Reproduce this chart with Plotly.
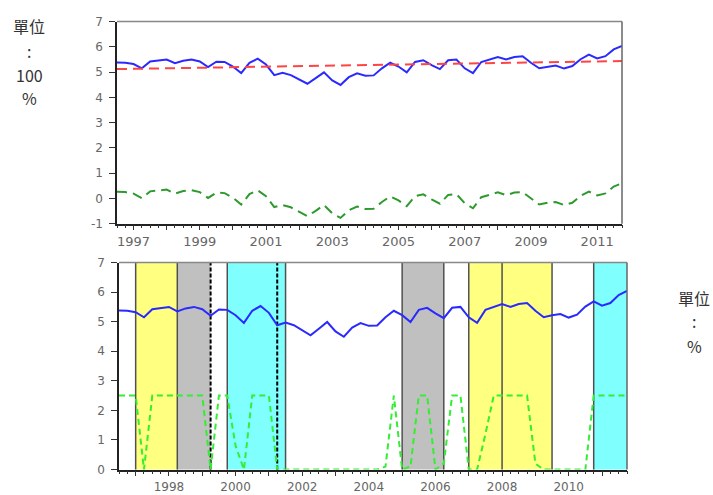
import plotly.graph_objects as go

# ---------------- data ----------------
start_year, start_q = 1996, 3
n_obs = 62
quarters = []
y, q = start_year, start_q
for _ in range(n_obs):
    quarters.append(f"{y}Q{q}")
    q += 1
    if q > 4:
        q = 1
        y += 1
x_num = [int(s[:4]) + (int(s[-1]) - 1) / 4 for s in quarters]

actual = [5.38, 5.37, 5.32, 5.15, 5.42, 5.47, 5.50, 5.35, 5.45, 5.50,
          5.42, 5.20, 5.41, 5.40, 5.22, 4.96, 5.37, 5.53, 5.30, 4.88,
          4.97, 4.88, 4.70, 4.54, 4.76, 4.99, 4.67, 4.49, 4.80, 4.95,
          4.86, 4.87, 5.15, 5.37, 5.22, 4.99, 5.40, 5.47, 5.28, 5.12,
          5.47, 5.50, 5.15, 4.96, 5.40, 5.50, 5.60, 5.50, 5.60, 5.63,
          5.37, 5.15, 5.22, 5.26, 5.14, 5.24, 5.51, 5.69, 5.54, 5.63,
          5.90, 6.04]

trend_x = ["1996Q3", "2011Q4"]
trend_y = [5.12, 5.44]

cycle = [0.26, 0.25, 0.19, 0.01, 0.28, 0.32, 0.35, 0.19, 0.29, 0.33,
         0.25, 0.02, 0.23, 0.21, 0.03, -0.24, 0.17, 0.32, 0.09, -0.34,
         -0.26, -0.35, -0.54, -0.70, -0.49, -0.26, -0.59, -0.77, -0.47, -0.32,
         -0.42, -0.41, -0.14, 0.08, -0.08, -0.31, 0.09, 0.16, -0.04, -0.21,
         0.14, 0.17, -0.19, -0.39, 0.05, 0.14, 0.24, 0.13, 0.23, 0.25,
         -0.01, -0.24, -0.17, -0.14, -0.26, -0.17, 0.10, 0.27, 0.12, 0.20,
         0.47, 0.60]

regime = [2.5, 2.5, 2.5, 0.0, 2.5, 2.5, 2.5, 2.5, 2.5, 2.5,
          2.5, 0.0, 2.5, 2.5, 0.8, 0.0, 2.5, 2.5, 2.5, 0.0,
          0.0, 0.0, 0.0, 0.0, 0.0, 0.0, 0.0, 0.0, 0.0, 0.0,
          0.0, 0.0, 0.1, 2.5, 0.0, 0.1, 2.5, 2.5, 0.0, 0.2,
          2.5, 2.5, 0.0, 0.0, 1.2, 2.5, 2.5, 2.5, 2.5, 2.5,
          0.2, 0.0, 0.0, 0.0, 0.0, 0.0, 0.0, 2.5, 2.5, 2.5,
          2.5, 2.5]

band_start = ["1997Q1", "1998Q2", "1999Q4", "2005Q1", "2007Q1", "2008Q1", "2010Q4"]
band_end = ["1998Q2", "1999Q2", "2001Q3", "2006Q2", "2008Q1", "2009Q3", "2011Q4"]
band_kind = ["yellow", "gray", "cyan", "gray", "yellow", "yellow", "cyan"]
solid_lines = ["1997Q1", "1998Q2", "1999Q4", "2001Q3", "2005Q1", "2006Q2",
               "2007Q1", "2008Q1", "2009Q3", "2010Q4"]
dashed_lines = ["1999Q2", "2001Q2"]

top_years = [1997, 1999, 2001, 2003, 2005, 2007, 2009, 2011]
bottom_years = [1998, 2000, 2002, 2004, 2006, 2008, 2010]
top_yticks = [-1, 0, 1, 2, 3, 4, 5, 6, 7]
bottom_yticks = [0, 1, 2, 3, 4, 5, 6, 7]

# ---------------- helpers ----------------
def qnum(s):
    return int(s[:4]) + (int(s[-1]) - 1) / 4

kind_color = {"yellow": "#ffff80", "gray": "#c0c0c0", "cyan": "#80ffff"}

W, H = 713, 495
def dom_x(a, b):
    return [a / W, b / W]
def dom_y(top, bottom):
    return [1 - bottom / H, 1 - top / H]

x_lo, x_hi = qnum("1996Q3"), qnum("2011Q4")

fig = go.Figure()
# top panel
fig.add_trace(go.Scatter(x=x_num, y=actual, mode="lines",
                         line=dict(color="#2a2aff", width=2), xaxis="x", yaxis="y"))
fig.add_trace(go.Scatter(x=[qnum(s) for s in trend_x], y=trend_y, mode="lines",
                         line=dict(color="#ff4444", width=2, dash="10px,6px"),
                         xaxis="x", yaxis="y"))
fig.add_trace(go.Scatter(x=x_num, y=cycle, mode="lines",
                         line=dict(color="#2e9a2e", width=2, dash="10px,6px"),
                         xaxis="x", yaxis="y"))
# bottom panel
fig.add_trace(go.Scatter(x=x_num, y=actual, mode="lines",
                         line=dict(color="#2a2aff", width=2), xaxis="x2", yaxis="y2"))
fig.add_trace(go.Scatter(x=x_num, y=regime, mode="lines",
                         line=dict(color="#33ee33", width=2, dash="6px,4px"),
                         xaxis="x2", yaxis="y2"))

shapes = []
for s, e, k in zip(band_start, band_end, band_kind):
    shapes.append(dict(type="rect", xref="x2", yref="y2 domain",
                       x0=qnum(s), x1=qnum(e), y0=0, y1=1,
                       fillcolor=kind_color[k], line=dict(width=0), layer="below"))
for s in solid_lines:
    shapes.append(dict(type="line", xref="x2", yref="y2 domain",
                       x0=qnum(s), x1=qnum(s), y0=0, y1=1,
                       line=dict(color="#505050", width=1.5), layer="below"))
for s in dashed_lines:
    shapes.append(dict(type="line", xref="x2", yref="y2 domain",
                       x0=qnum(s), x1=qnum(s), y0=0, y1=1,
                       line=dict(color="#000000", width=2, dash="4px,2px"), layer="below"))
# gray top/right borders
for xr, yr in (("x domain", "y domain"), ("x2 domain", "y2 domain")):
    shapes.append(dict(type="line", xref=xr, yref=yr, x0=0, x1=1, y0=1, y1=1,
                       line=dict(color="#888888", width=1.5)))
    shapes.append(dict(type="line", xref=xr, yref=yr, x0=1, x1=1, y0=0, y1=1,
                       line=dict(color="#666666", width=1.5)))

label_color = "#666666"

def xaxis_cfg(domain, anchor, years, fsize):
    all_years = list(range(1997, 2012))
    return dict(domain=domain, anchor=anchor, range=[x_lo, x_hi],
                tickvals=all_years,
                ticktext=[str(v) if v in years else "" for v in all_years],
                ticks="outside", ticklen=5, tickcolor="#333333",
                minor=dict(dtick=0.25, tick0=1997, ticks="outside", ticklen=3,
                           tickcolor="#333333", showgrid=False),
                showline=True, linecolor="#222222", linewidth=1.5,
                showgrid=False, zeroline=False,
                tickfont=dict(family="DejaVu Sans", size=fsize, color=label_color))

def yaxis_cfg(domain, anchor, rng, vals):
    return dict(domain=domain, anchor=anchor, range=rng, tickvals=vals,
                ticktext=[str(v) for v in vals],
                ticks="outside", ticklen=6, tickcolor="#333333",
                showline=True, linecolor="#222222", linewidth=1.5,
                showgrid=False, zeroline=False,
                tickfont=dict(family="DejaVu Sans", size=12, color=label_color),
                ticklabelstandoff=4)

annotations = []
ann_font = dict(family="Noto Sans CJK TC", size=16, color="#333333")
for txt, yy in (("單位", 20), (":", 45), ("100", 70), ("%", 94)):
    annotations.append(dict(text=txt, xref="paper", yref="paper",
                            x=29 / W, y=1 - yy / H, showarrow=False,
                            xanchor="center", yanchor="middle", font=ann_font))
for txt, yy in (("單位", 299), (":", 323), ("%", 349)):
    annotations.append(dict(text=txt, xref="paper", yref="paper",
                            x=694 / W, y=1 - yy / H, showarrow=False,
                            xanchor="center", yanchor="middle", font=ann_font))

fig.update_layout(
    width=W, height=H,
    margin=dict(l=0, r=0, t=0, b=0),
    paper_bgcolor="white", plot_bgcolor="white",
    showlegend=False,
    xaxis=xaxis_cfg(dom_x(117, 622), "y", top_years, 13),
    yaxis=yaxis_cfg(dom_y(15, 223), "x", [-1, 7], top_yticks),
    xaxis2=xaxis_cfg(dom_x(119, 627), "y2", bottom_years, 12),
    yaxis2=yaxis_cfg(dom_y(263, 476), "x2", [0, 7], bottom_yticks),
    shapes=shapes,
    annotations=annotations,
)

fig.write_html("out.html")
